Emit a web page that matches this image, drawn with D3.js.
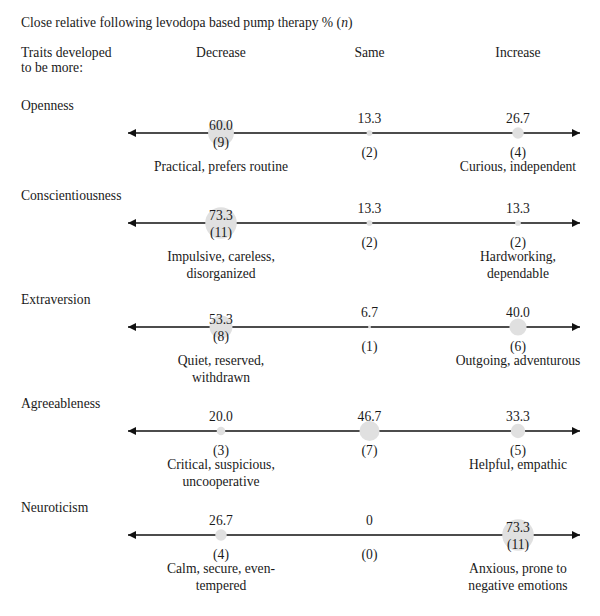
<!DOCTYPE html>
<html>
<head>
<meta charset="utf-8">
<script src="https://cdn.jsdelivr.net/npm/d3@7"></script>
<style>
  html, body { margin: 0; padding: 0; background: #fff; }
  text { font-family: "Liberation Serif", "DejaVu Serif", serif; font-size: 13.6px; fill: #1a1a1a; }
</style>
</head>
<body>
<svg id="chart" width="600" height="616"></svg>
<script>
const title = "Close relative following levodopa based pump therapy % ";
const traits = ["Openness", "Conscientiousness", "Extraversion", "Agreeableness", "Neuroticism"];
const columns = ["Decrease", "Same", "Increase"];
const pctDecrease = [60.0, 73.3, 53.3, 20.0, 26.7];
const pctSame = [13.3, 13.3, 6.7, 46.7, 0];
const pctIncrease = [26.7, 13.3, 40.0, 33.3, 73.3];
const nDecrease = [9, 11, 8, 3, 4];
const nSame = [2, 2, 1, 7, 0];
const nIncrease = [4, 2, 6, 5, 11];
const descDecrease = [["Practical, prefers routine"], ["Impulsive, careless,", "disorganized"], ["Quiet, reserved,", "withdrawn"], ["Critical, suspicious,", "uncooperative"], ["Calm, secure, even-", "tempered"]];
const descIncrease = [["Curious, independent"], ["Hardworking,", "dependable"], ["Outgoing, adventurous"], ["Helpful, empathic"], ["Anxious, prone to", "negative emotions"]];

const svg = d3.select("#chart");

// scales
const x = d3.scalePoint().domain(columns).range([221, 518]);
const r = d3.scaleLinear().domain([0, 100]).range([0, 21.5]);

// row layout (row heights depend on number of description lines)
const rowLines = traits.map((t, i) => Math.max(descDecrease[i].length, descIncrease[i].length));
const lineY = [];
let yy = 133;
traits.forEach((t, i) => { lineY.push(yy); yy += 76 + 14 * rowLines[i]; });
const y = d3.scaleOrdinal().domain(traits).range(lineY);

// title
const tt = svg.append("text").attr("x", 21).attr("y", 27);
tt.append("tspan").text(title + "(");
tt.append("tspan").attr("font-style", "italic").text("n");
tt.append("tspan").text(")");

svg.append("text").attr("x", 21).attr("y", 57).text("Traits developed");
svg.append("text").attr("x", 21).attr("y", 72).text("to be more:");

svg.selectAll("text.col").data(columns).join("text")
  .attr("class", "col").attr("x", d => x(d)).attr("y", 57)
  .attr("text-anchor", "middle").text(d => d);

// arrow markers
const defs = svg.append("defs");
defs.append("marker").attr("id", "arrowR").attr("viewBox", "0 0 10 10")
  .attr("refX", 10).attr("refY", 5).attr("markerWidth", 9).attr("markerHeight", 8)
  .attr("markerUnits", "userSpaceOnUse").attr("orient", "auto")
  .append("path").attr("d", "M0,0 L10,5 L0,10 Z").attr("fill", "#111");
defs.append("marker").attr("id", "arrowL").attr("viewBox", "0 0 10 10")
  .attr("refX", 0).attr("refY", 5).attr("markerWidth", 9).attr("markerHeight", 8)
  .attr("markerUnits", "userSpaceOnUse").attr("orient", "auto")
  .append("path").attr("d", "M10,0 L0,5 L10,10 Z").attr("fill", "#111");

const fmt = v => v === 0 ? "0" : v.toFixed(1);

traits.forEach((trait, i) => {
  const ly = y(trait);
  const g = svg.append("g");
  g.append("text").attr("x", 21).attr("y", ly - 23).text(trait);
  g.append("line").attr("x1", 128).attr("x2", 580).attr("y1", ly).attr("y2", ly)
    .attr("stroke", "#111").attr("stroke-width", 1.5)
    .attr("marker-start", "url(#arrowL)").attr("marker-end", "url(#arrowR)");

  const cells = [
    { col: "Decrease", v: pctDecrease[i], n: nDecrease[i], desc: descDecrease[i] },
    { col: "Same", v: pctSame[i], n: nSame[i], desc: [] },
    { col: "Increase", v: pctIncrease[i], n: nIncrease[i], desc: descIncrease[i] }
  ];

  g.selectAll("circle").data(cells).join("circle")
    .attr("cx", d => x(d.col)).attr("cy", ly).attr("r", d => r(d.v))
    .attr("fill", "#e0e0e0");

  g.selectAll("text.val").data(cells).join("text")
    .attr("class", "val").attr("text-anchor", "middle")
    .attr("x", d => x(d.col))
    .attr("y", d => d.v >= 50 ? ly - 3 : ly - 10)
    .text(d => fmt(d.v));

  g.selectAll("text.n").data(cells).join("text")
    .attr("class", "n").attr("text-anchor", "middle")
    .attr("x", d => x(d.col))
    .attr("y", d => d.v >= 50 ? ly + 14 : ly + 24)
    .text(d => "(" + d.n + ")");

  cells.forEach(c => {
    c.desc.forEach((line, k) => {
      g.append("text").attr("text-anchor", "middle")
        .attr("x", x(c.col)).attr("y", ly + 38 + 17 * k).text(line);
    });
  });
});
</script>
</body>
</html>
